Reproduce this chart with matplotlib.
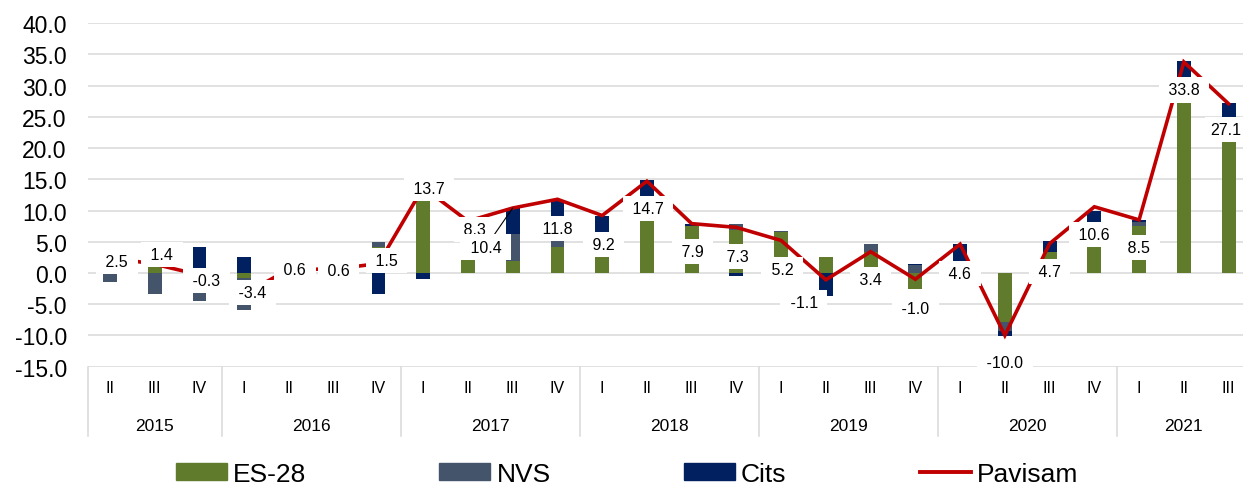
import numpy as np
import matplotlib.pyplot as plt
from matplotlib.lines import Line2D
from matplotlib.patches import Patch

plt.rcParams["font.family"] = ["Liberation Sans", "DejaVu Sans"]

# quarters shown on the category axis, grouped by year
years = ["2015", "2016", "2017", "2018", "2019", "2020", "2021"]
quarters_per_year = [3, 4, 4, 4, 4, 4, 3]
quarters = ["II", "III", "IV",
            "I", "II", "III", "IV",
            "I", "II", "III", "IV",
            "I", "II", "III", "IV",
            "I", "II", "III", "IV",
            "I", "II", "III", "IV",
            "I", "II", "III"]

es28 = [3.9, 2.0, 0.0, -0.8, 2.0, 0.6, 4.1,
        14.6, 8.3, 1.9, 4.1, 5.0, 10.5, 7.6, 6.9,
        6.5, 2.6, 3.3, -2.5, 0.0, -7.9, 3.3, 6.0,
        7.55, 30.0, 23.0]
nvs = [-1.5, -3.3, -4.5, -5.1, 0.0, 0.0, 0.8,
       0.0, 0.0, 4.3, 1.1, 0.0, 0.0, 0.0, 0.9,
       0.25, 0.0, 1.4, 1.25, 0.0, -1.35, -0.35, 0.0,
       0.65, 0.0, 0.0]
cits = [0.0, 2.7, 4.2, 2.5, -1.4, 0.0, -3.4,
        -0.9, 0.0, 4.2, 6.4, 4.2, 4.4, 0.3, -0.5,
        -1.45, -3.7, -1.3, 0.25, 4.6, -0.8, 1.75, 3.95,
        0.25, 4.0, 4.3]
pavisam = [2.5, 1.4, -0.3, -3.4, 0.6, 0.6, 1.5,
           13.7, 8.3, 10.4, 11.8, 9.2, 14.7, 7.9, 7.3,
           5.2, -1.1, 3.4, -1.0, 4.6, -10.0, 4.7, 10.6,
           8.5, 33.8, 27.1]

# data label placement, pixels from the point (right, down)
label_offsets = [(7, 4), (7, -10), (7, 6), (8, -2), (6, 0), (5, 1), (8, -3),
                 (6, 1), (7, 8), (-27, 39), (0, 29), (1, 29), (1, 27),
                 (1, 28), (1, 29), (1, 29), (-22, 23), (0, 28), (0, 29),
                 (0, 29), (0, 27), (0, 28), (0, 28), (0, 28), (0, 28), (-3, 26)]

names = ["ES-28", "NVS", "Cits"]
colors = ["#5F7B2B", "#44546A", "#002060"]
red = "#C00000"
grid_c = "#D9D9D9"

fig = plt.figure(figsize=(12.43, 4.85), dpi=100)
ax = fig.add_axes([0.0705, 0.2421, 0.9359, 0.7079])

x = np.arange(len(quarters))
pos_base = np.zeros(len(x))
neg_base = np.zeros(len(x))
for vals, color in zip((es28, nvs, cits), colors):
    vals = np.asarray(vals)
    bottom = np.where(vals >= 0, pos_base, neg_base)
    ax.bar(x, vals, bottom=bottom, width=0.31, color=color, zorder=2)
    pos_base += np.clip(vals, 0, None)
    neg_base += np.clip(vals, None, 0)

ax.plot(x, pavisam, color=red, lw=2.6, zorder=3, solid_joinstyle="miter")

# white label boxes, wider than tall (spaces widen them)
for i, v in enumerate(pavisam):
    dx, dy = label_offsets[i]
    txt = f" {v:.1f} " if i < len(pavisam) - 1 else f"{v:.1f}"
    kw = {}
    if i == 9:  # 2017 III label pulled aside with a leader line
        kw["arrowprops"] = dict(arrowstyle="-", color="black", lw=0.8,
                                shrinkA=0, shrinkB=0)
    ax.annotate(txt, (x[i], v), xytext=(dx * 0.72, -dy * 0.72),
                textcoords="offset points", ha="center", va="center",
                fontsize=11.5, color="black", zorder=5, annotation_clip=False,
                bbox=dict(boxstyle="square,pad=0.32", fc="white", ec="none"),
                **kw)

ax.set_xlim(-0.5, len(x) - 0.5)
ax.set_ylim(-15, 40)
ax.set_yticks(np.arange(-15, 41, 5))
ax.set_yticklabels([f"{t:.1f}" for t in np.arange(-15, 41, 5)])
ax.tick_params(axis="y", length=0, pad=15, labelsize=16.5)
ax.set_xticks([])
ax.grid(axis="y", color=grid_c, lw=1.1, zorder=0)
ax.set_axisbelow(True)
for s in ax.spines.values():
    s.set_visible(False)

# two-level category axis
trans = ax.get_xaxis_transform()
for i, q in enumerate(quarters):
    ax.text(x[i], -0.0623, q, transform=trans, ha="center", va="center",
            fontsize=11.5)
edges = np.concatenate([[0], np.cumsum(quarters_per_year)]) - 0.5
for e in edges[:-1]:
    ax.plot([e, e], [0, -0.202], transform=trans, color=grid_c, lw=1.1,
            clip_on=False)
for y, a, b in zip(years, edges[:-1], edges[1:]):
    ax.text((a + b) / 2, -0.173, y, transform=trans, ha="center",
            va="center", fontsize=12.5)

handles = [Patch(color=c) for c in colors] + [Line2D([], [], color=red, lw=2.8)]
fig.legend(handles, names + ["Pavisam"], loc="center",
           bbox_to_anchor=(0.5044, 0.0216), ncol=4, frameon=False,
           fontsize=19, handlelength=1.93, handleheight=0.6,
           handletextpad=0.23, columnspacing=5.05, borderpad=0,
           borderaxespad=0)

fig.savefig("out.png", dpi=100)
